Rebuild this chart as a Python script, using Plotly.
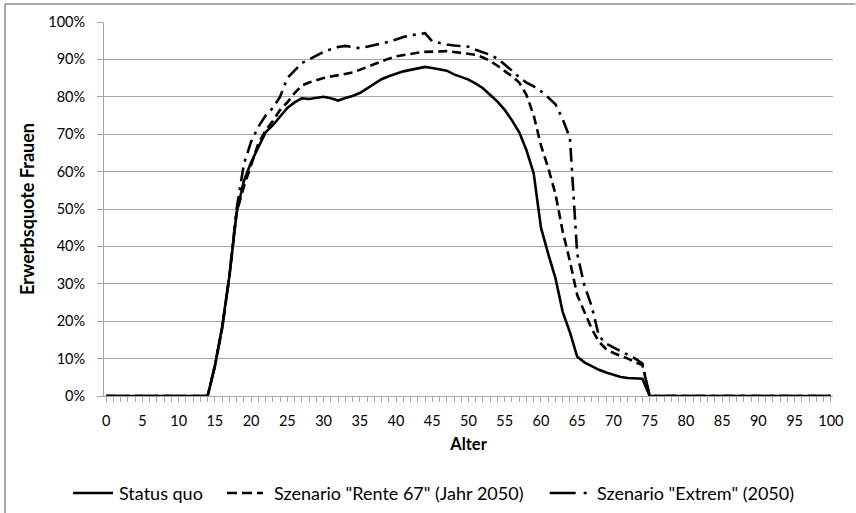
import plotly.graph_objects as go

ages = list(range(0, 101))

status_quo = [
    0, 0, 0, 0, 0, 0, 0, 0, 0, 0,
    0, 0, 0, 0, 0, 8, 18.5, 32, 49, 57.5,
    62.5, 66.5, 70.5, 72.4, 74.7, 77, 78.5, 79.6, 79.4, 79.7,
    80, 79.6, 79, 79.7, 80.2, 81, 82.3, 83.6, 84.7, 85.5,
    86.2, 86.8, 87.2, 87.6, 88, 87.7, 87.4, 87, 86, 85.2,
    84.6, 83.5, 82.3, 80.5, 78.7, 76.5, 73.7, 70.5, 65.7, 59.5,
    45, 38, 31.5, 22.5, 17, 10.5, 9, 8, 7, 6.3,
    5.6, 5.1, 4.8, 4.8, 4.6, 0, 0, 0, 0, 0,
    0, 0, 0, 0, 0, 0, 0, 0, 0, 0,
    0, 0, 0, 0, 0, 0, 0, 0, 0, 0,
    0,
]

rente67 = [
    0, 0, 0, 0, 0, 0, 0, 0, 0, 0,
    0, 0, 0, 0, 0, 8, 18, 32, 49, 56,
    62, 67.5, 71, 73.5, 76.5, 78.5, 81, 83, 83.8, 84.5,
    85, 85.4, 85.7, 86.1, 86.5, 87.2, 88, 88.8, 89.5, 90.2,
    90.8, 91.2, 91.5, 91.8, 92, 92.1, 92.2, 92.2, 92, 91.8,
    91.5, 91.2, 90.5, 89.6, 88.3, 87, 85.5, 83.8, 80.5, 75,
    67, 61, 54, 44, 36, 27, 22.5, 18, 14.5, 12.5,
    11.5, 10.8, 10, 9, 8.3, 0, 0, 0, 0, 0,
    0, 0, 0, 0, 0, 0, 0, 0, 0, 0,
    0, 0, 0, 0, 0, 0, 0, 0, 0, 0,
    0,
]

extrem = [
    0, 0, 0, 0, 0, 0, 0, 0, 0, 0,
    0, 0, 0, 0, 0, 8, 18, 32, 50, 62,
    68, 72, 75, 77, 80, 85, 87, 89, 90, 91,
    92, 92.7, 93.3, 93.6, 93.2, 93, 93.4, 93.8, 94.1, 94.7,
    95.3, 96, 96.4, 96.7, 97, 94.8, 94.3, 94, 93.7, 93.5,
    93.4, 92.6, 92, 91.2, 90.2, 88.7, 87, 85.2, 83.8, 82.8,
    81.5, 79.8, 78, 74, 69, 38, 29.5, 24, 16, 14,
    13, 12, 11, 10, 8.7, 0, 0, 0, 0, 0,
    0, 0, 0, 0, 0, 0, 0, 0, 0, 0,
    0, 0, 0, 0, 0, 0, 0, 0, 0, 0,
    0,
]

series_names = [
    "Status quo",
    'Szenario "Rente 67" (Jahr 2050)',
    'Szenario "Extrem" (2050)',
]

x_tickvals = list(range(0, 101, 5))
y_tickvals = [0, 10, 20, 30, 40, 50, 60, 70, 80, 90, 100]

FONT = "Lato, Open Sans, sans-serif"
GRAY = "#a6a6a6"
BORDER = "#8c8c8c"

line_dashes = ["solid", "9px,5px", "14px,6px,3px,6px"]
legend_dashes = ["solid", "10px,5px", "26px,8px,3px,8px"]

fig = go.Figure()
for name, vals, dash in zip(series_names, [status_quo, rente67, extrem], line_dashes):
    fig.add_trace(go.Scatter(
        x=ages, y=[v / 100 for v in vals], mode="lines", name=name,
        line=dict(color="black", width=2.6, dash=dash), hoverinfo="skip",
        showlegend=False,
    ))

# plot area in pixels: x 104..833.5, y 22..396
L, R, T, B = 104, 833.5, 22, 396
W, H = 856, 513


def px_x(p):
    return (p - L) / (R - L)


def px_y(p):
    return (B - p) / (B - T)


# manual legend (line sample + text), pixel positions
leg_y = 493
leg_items = [(73, 113, 117), (227, 263, 272), (550, 587, 595)]
shapes = []
annotations = []
for (x0, x1, tx), name, dash in zip(leg_items, series_names, legend_dashes):
    shapes.append(dict(
        type="line", xref="paper", yref="paper",
        x0=px_x(x0), x1=px_x(x1), y0=px_y(leg_y), y1=px_y(leg_y),
        line=dict(color="black", width=2.6, dash=dash),
    ))
    annotations.append(dict(
        xref="paper", yref="paper", x=px_x(tx), y=px_y(leg_y),
        xanchor="left", yanchor="middle", showarrow=False, text=name,
        font=dict(family=FONT, size=18, color="black"),
    ))

# outer chart border (left and top edges visible in the reference)
shapes.append(dict(
    type="line", xref="paper", yref="paper",
    x0=px_x(5), x1=px_x(5), y0=px_y(4), y1=px_y(513),
    line=dict(color=BORDER, width=1.5, dash="solid"),
))
shapes.append(dict(
    type="line", xref="paper", yref="paper",
    x0=px_x(5), x1=px_x(856), y0=px_y(4), y1=px_y(4),
    line=dict(color=BORDER, width=1.5, dash="solid"),
))

fig.update_layout(
    width=W, height=H,
    margin=dict(l=L, r=W - R, t=T, b=H - B, pad=0),
    paper_bgcolor="white", plot_bgcolor="white",
    font=dict(family=FONT, size=14.5, color="black"),
    showlegend=False,
    xaxis=dict(
        range=[-0.3, 100.3],
        tickmode="array", tickvals=x_tickvals, ticktext=[str(v) for v in x_tickvals],
        ticks="outside", ticklen=5, tickcolor=GRAY, ticklabelstandoff=7,
        showgrid=False, zeroline=False,
        showline=True, linecolor=GRAY, linewidth=1,
        minor=dict(ticks="outside", dtick=1, tick0=0, ticklen=5, tickcolor=GRAY, showgrid=False),
        tickfont=dict(size=14.5),
        title=dict(text="<b>Alter</b>", font=dict(size=16.5), standoff=10),
        automargin=False,
    ),
    yaxis=dict(
        range=[0, 1], tickmode="array", tickvals=[v / 100 for v in y_tickvals],
        ticktext=[f"{v}%" for v in y_tickvals],
        ticks="outside", ticklen=6, tickcolor=GRAY, ticklabelstandoff=9,
        showgrid=True, gridcolor=GRAY, gridwidth=1,
        zeroline=False, showline=True, linecolor=GRAY, linewidth=1,
        tickfont=dict(size=14.5),
        title=dict(text="<b>Erwerbsquote Frauen</b>", font=dict(size=18), standoff=8),
        automargin=False,
    ),
    shapes=shapes,
    annotations=annotations,
)

fig.write_html(
    "out.html",
    config={"displayModeBar": False},
    post_script="document.body.style.margin='0px';",
)
